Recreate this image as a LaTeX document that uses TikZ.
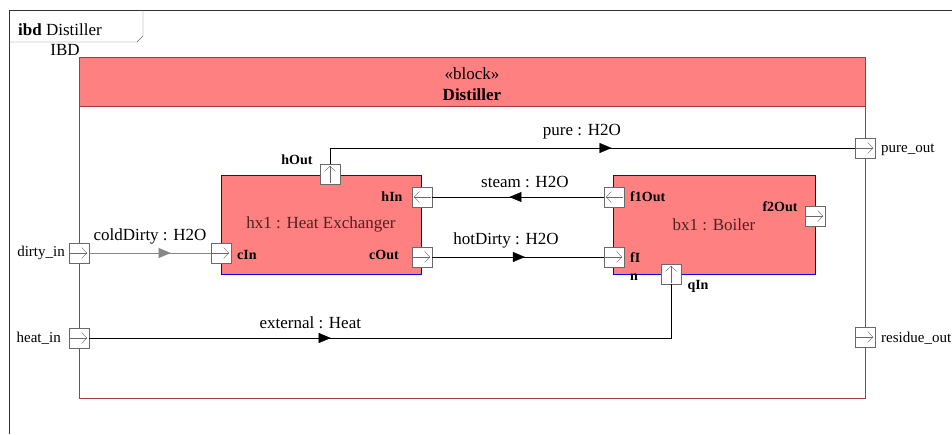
\documentclass[tikz,border=0pt]{standalone}
\usepackage{fontspec}
\setmainfont{Liberation Serif}
\usetikzlibrary{arrows.meta, positioning, decorations.markings}
\definecolor{blockred}{RGB}{255,128,128}
\definecolor{frameline}{RGB}{160,60,60}
\definecolor{portgray}{RGB}{105,105,105}
\definecolor{linegray}{RGB}{135,135,135}
\definecolor{parttext}{RGB}{75,35,35}
\tikzset{
  txt/.style={font=\fontsize{17}{20}\selectfont, inner sep=0pt},
  bname/.style={font=\fontsize{15}{18}\selectfont, inner sep=0pt},
  lbl/.style={font=\fontsize{14}{18}\selectfont\bfseries, inner sep=0pt},
  partblock/.style={draw=blue, fill=blockred, minimum width=200pt, minimum height=99pt, inner sep=0pt, txt, text=parttext},
  port/.style={draw=portgray, fill=white, minimum size=20pt, inner sep=0pt},
  portarrow/.style={draw=portgray, -{Straight Barb[length=5pt,width=11pt]}},
  portR/.style={port, path picture={\draw[portarrow] ([xshift=1pt]path picture bounding box.west) -- ([xshift=-2pt]path picture bounding box.east);}},
  portL/.style={port, path picture={\draw[portarrow] ([xshift=-1pt]path picture bounding box.east) -- ([xshift=2pt]path picture bounding box.west);}},
  portU/.style={port, path picture={\draw[portarrow] ([yshift=1pt]path picture bounding box.south) -- ([yshift=-2pt]path picture bounding box.north);}},
  flow/.style={draw, postaction={decorate}, decoration={markings, mark=at position #1 with {\arrow{Triangle[length=12pt,width=10pt]}}}},
  flow/.default=0.5
}

\begin{document}
\begin{tikzpicture}[x=1pt, y=-1pt]
    \useasboundingbox (0,0) rectangle (952,434);
    % diagram frame and tab
    \draw[black!80] (9,434) -- (9,10) -- (952,10);
    \draw[black!60] (9,42) -- (137,42) -- (143,36) -- (143,10);
    \node[txt, anchor=west] (title) at (18,30) {\textbf{ibd} Distiller};
    \node[txt] (ibd) at (65,50) {IBD};

    % Distiller block
    \draw[frameline] (79,57) rectangle (865,398);
    \draw[frameline, fill=blockred] (79,57) rectangle (865,106);
    \node[txt] (stereo) at (472,74) {«block»};
    \node[txt, font=\fontsize{17}{20}\selectfont\bfseries] (dname) at (472,95) {Distiller};

    % parts
    \node[partblock] (hx1) at (321,224.5) {hx1 : Heat Exchanger\hspace{16pt}};
    \node[partblock, minimum width=202pt] (bx1) at (714,224.5) {bx1 : Boiler};

    % boundary ports
    \node[portR] (dirtyIn) at (79,253) {};
    \node[portR] (heatIn) at (79,338) {};
    \node[portR] (pureOut) at (865,148) {};
    \node[portR] (residueOut) at (865,337) {};
    \node[bname, anchor=east] (dirtyInL) at (65,253) {dirty\_in};
    \node[bname, anchor=east] (heatInL) at (61,338) {heat\_in};
    \node[bname, anchor=west] (pureOutL) at (881,150) {pure\_out};
    \node[bname, anchor=west] (residueOutL) at (881,338) {residue\_out};

    % part ports
    \node[portU] (hOut) at (330,174) {};
    \node[portL] (hIn) at (422,197) {};
    \node[portR] (cOut) at (422,257) {};
    \node[portR] (cIn) at (221,253) {};
    \node[portL] (f1Out) at (614,197) {};
    \node[portR] (fIn) at (614,257) {};
    \node[portR] (f2Out) at (815,216) {};
    \node[portU] (qIn) at (671,274) {};
    \node[lbl] (hOutL) at (297,160) {hOut};
    \node[lbl] (hInL) at (392,197) {hIn};
    \node[lbl] (cOutL) at (384,255) {cOut};
    \node[lbl, anchor=west] (cInL) at (237,255) {cIn};
    \node[lbl, anchor=west] (f1OutL) at (630,197) {f1Out};
    \node[lbl, anchor=west, align=left] (fInL) at (630,267) {fI\\n};
    \node[lbl] (f2OutL) at (780,207) {f2Out};
    \node[lbl] (qInL) at (698,286) {qIn};

    % connectors
    \draw[flow=0.67, linegray] (dirtyIn) -- node[txt, above=9pt, text=black] {coldDirty : H2O} (cIn);
    \draw[flow=0.54] (cOut) -- node[txt, above=9pt, pos=0.43] {hotDirty : H2O} (fIn);
    \draw[flow=0.55] (f1Out) -- node[txt, above=9pt, pos=0.46] {steam : H2O} (hIn);
    \draw[flow=0.38] (heatIn) -| node[txt, above=9pt, pos=0.19] {external : Heat} (qIn);
    \draw[flow=0.55] (hOut) |- node[txt, above=9pt, pos=0.74] {pure : H2O} (pureOut);
\end{tikzpicture}
\end{document}
